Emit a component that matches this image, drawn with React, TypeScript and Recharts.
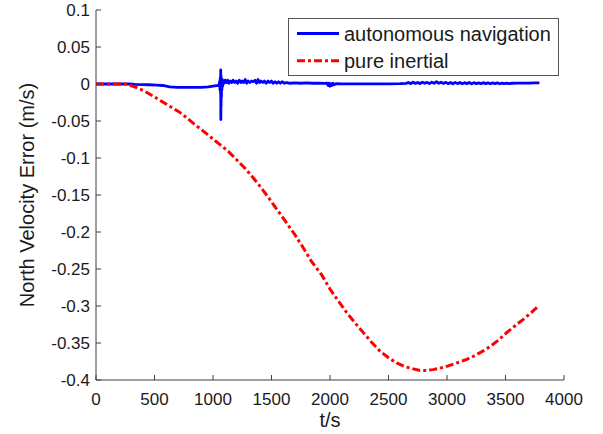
import React from 'react';
import { LineChart, Line, XAxis, YAxis, Legend } from 'recharts';

const FONT = '"Liberation Sans", Arial, Helvetica, sans-serif';
const AXIS_COLOR = '#404040';
const TEXT_COLOR = '#1a1a1a';

const seriesNames = ['autonomous navigation', 'pure inertial'];
const seriesColors = ['#0000ff', '#ff0000'];
const xTicks = [0, 500, 1000, 1500, 2000, 2500, 3000, 3500, 4000];
const yTicks = [0.1, 0.05, 0, -0.05, -0.1, -0.15, -0.2, -0.25, -0.3, -0.35, -0.4];
const xTitle = 't/s';
const yTitle = 'North Velocity Error (m/s)';

// autonomous navigation (blue)
const autoTime = [
  0, 100, 200, 290, 330, 400, 450, 520, 570, 630, 700, 800, 900, 960, 1000, 1030, 1050,
  1058, 1060, 1062, 1064, 1066, 1067, 1068, 1069, 1070, 1072, 1074, 1076, 1079, 1083, 1088,
  1095, 1105, 1115, 1125, 1135, 1148, 1160, 1172, 1185, 1198, 1210, 1225, 1238, 1250, 1262,
  1275, 1288, 1300, 1315, 1330, 1345, 1360, 1372, 1385, 1398, 1410, 1425, 1440, 1455, 1470,
  1485, 1500, 1515, 1530, 1545, 1560, 1575, 1590, 1610, 1630, 1660, 1700, 1750, 1800, 1850,
  1900, 1950, 1975, 1985, 1992, 2000, 2008, 2016, 2025, 2035, 2050, 2100, 2200, 2300, 2400,
  2500, 2600, 2650, 2670, 2690, 2710, 2730, 2750, 2770, 2790, 2810, 2830, 2850, 2870, 2890,
  2910, 2930, 2950, 2970, 2990, 3010, 3030, 3050, 3070, 3090, 3110, 3130, 3150, 3170, 3190,
  3210, 3230, 3250, 3270, 3290, 3310, 3330, 3350, 3370, 3390, 3410, 3430, 3450, 3470, 3490,
  3510, 3530, 3560, 3600, 3650, 3700, 3750, 3790,
];
const autoError = [
  0, 0, 0, 0.0003, -0.0005, -0.0008, -0.001, -0.0015, -0.002, -0.0038, -0.0045, -0.0046, -0.0045, -0.004, -0.003, -0.0022, -0.0018,
  0.004, -0.008, 0.008, -0.012, 0.019, -0.048, 0.012, -0.03, 0.009, -0.018, 0.007, -0.008, 0.006, -0.003, 0.005,
  0.001, 0.005, 0.002, 0.005, 0.001, 0.004, 0.002, 0.005, 0.002, 0.004, 0.001, 0.005, 0.002, 0.004, 0.002,
  0.006, 0.001, 0.004, 0.002, 0.004, 0.003, 0.005, 0.001, 0.006, 0.002, 0.004, 0.002, 0.004, 0.001, 0.004,
  0.002, 0.004, 0.001, 0.003, 0.001, 0.003, 0.001, 0.003, 0.001, 0.002, 0.001, 0.0015, 0.001, 0.0015, 0.001,
  0.001, 0.0008, 0.001, -0.002, 0.001, -0.003, 0.0005, -0.002, 0.001, -0.001, 0.0005, 0.0003, 0.0003, 0.0002, 0.0003,
  0.0003, 0.0005, 0.0008, 0.002, 0.0005, 0.0025, 0.0008, 0.002, 0.0005, 0.0025, 0.001, 0.0022, 0.0005, 0.0025, 0.001,
  0.003, 0.001, 0.0025, 0.0008, 0.0022, 0.0005, 0.002, 0.0003, 0.0022, 0.0005, 0.002, 0.0003, 0.0018, 0.0005, 0.002,
  0.0003, 0.0018, 0.0005, 0.0015, 0.0003, 0.0018, 0.0005, 0.0015, 0.0003, 0.0015, 0.0005, 0.0015, 0.0003, 0.0012, 0.0005,
  0.0012, 0.0005, 0.001, 0.0012, 0.0012, 0.0013, 0.0015, 0.0015,
];

// pure inertial (red)
const inertialTime = [
  0, 100, 200, 250, 276, 350, 419, 490, 561, 630, 704, 775, 846, 920, 989, 1060, 1131, 1200,
  1274, 1345, 1416, 1490, 1558, 1630, 1701, 1770, 1843, 1929, 2000, 2070, 2143, 2215, 2285,
  2355, 2427, 2500, 2570, 2640, 2712, 2770, 2826, 2880, 2940, 3010, 3083, 3155, 3225, 3295,
  3368, 3440, 3510, 3580, 3652, 3720, 3781,
];
const inertialError = [
  0, 0, 0, 0, -0.001, -0.005, -0.01, -0.0165, -0.0235, -0.03, -0.037, -0.0455, -0.055, -0.064, -0.073, -0.082, -0.091, -0.102,
  -0.114, -0.127, -0.141, -0.157, -0.172, -0.188, -0.204, -0.221, -0.24, -0.258, -0.277, -0.293, -0.309, -0.323, -0.336,
  -0.349, -0.361, -0.37, -0.377, -0.382, -0.385, -0.387, -0.387, -0.386, -0.384, -0.381, -0.377, -0.373, -0.368, -0.362,
  -0.355, -0.346, -0.336, -0.327, -0.318, -0.309, -0.3,
];

const autoData = autoTime.map((t, i) => ({ t, v: autoError[i] }));
const inertialData = inertialTime.map((t, i) => ({ t, v: inertialError[i] }));

const fmtY = (v: number) => {
  const r = Number(v.toFixed(2));
  return r === 0 ? '0' : String(r);
};

const LegendBox = () => (
  <div
    style={{
      width: 271,
      height: 58,
      border: '1px solid #555',
      background: '#fff',
      boxSizing: 'border-box',
      fontFamily: FONT,
    }}
  >
    <svg width={269} height={56} style={{ display: 'block' }}>
      <line x1={8} x2={50} y1={14.5} y2={14.5} stroke={seriesColors[0]} strokeWidth={3} />
      <text x={55} y={14.5} dominantBaseline="central" fontSize={20} fill={TEXT_COLOR}>
        {seriesNames[0]}
      </text>
      <line
        x1={8}
        x2={50}
        y1={41.8}
        y2={41.8}
        stroke={seriesColors[1]}
        strokeWidth={3}
        strokeDasharray="8 3 3 3"
      />
      <text x={55} y={41.8} dominantBaseline="central" fontSize={20} fill={TEXT_COLOR}>
        {seriesNames[1]}
      </text>
    </svg>
  </div>
);

const YTitle = (props: any) => {
  const vb = props.viewBox || { x: 0, y: 0, width: 96, height: 370 };
  const cx = vb.x + 27;
  const cy = vb.y + vb.height / 2;
  return (
    <text
      x={cx}
      y={cy}
      transform={`rotate(-90 ${cx} ${cy})`}
      textAnchor="middle"
      dominantBaseline="central"
      fontSize={20}
      fontFamily={FONT}
      fill={TEXT_COLOR}
    >
      {yTitle}
    </text>
  );
};

export default function App() {
  return (
    <div style={{ position: 'absolute', left: 0, top: 0, width: 603, height: 434, background: '#fff' }}>
      <LineChart
        width={603}
        height={434}
        margin={{ top: 10, right: 39, bottom: 0, left: 0 }}
        style={{ fontFamily: FONT }}
      >
        <XAxis
          xAxisId="bottom"
          dataKey="t"
          type="number"
          domain={[0, 4000]}
          ticks={xTicks}
          height={54}
          tickSize={-5}
          tickMargin={18}
          axisLine={{ stroke: AXIS_COLOR }}
          tickLine={{ stroke: AXIS_COLOR }}
          tick={{ fill: TEXT_COLOR, fontSize: 17, fontFamily: FONT }}
          allowDataOverflow
          label={{ value: xTitle, position: 'insideBottom', offset: 7, fontSize: 20, fill: TEXT_COLOR, fontFamily: FONT }}
        />
        <XAxis
          xAxisId="top"
          orientation="top"
          type="number"
          domain={[0, 4000]}
          ticks={xTicks}
          height={0}
          tickSize={-5}
          tick={false}
          axisLine={{ stroke: AXIS_COLOR }}
          tickLine={{ stroke: AXIS_COLOR }}
          allowDataOverflow
        />
        <YAxis
          yAxisId="left"
          type="number"
          domain={[-0.4, 0.1]}
          ticks={yTicks}
          width={96}
          tickSize={-5}
          tickMargin={11}
          tickFormatter={fmtY}
          axisLine={{ stroke: AXIS_COLOR }}
          tickLine={{ stroke: AXIS_COLOR }}
          tick={{ fill: TEXT_COLOR, fontSize: 17, fontFamily: FONT }}
          allowDataOverflow
          label={YTitle}
        />
        <YAxis
          yAxisId="right"
          orientation="right"
          type="number"
          domain={[-0.4, 0.1]}
          ticks={yTicks}
          width={0}
          tickSize={-5}
          tick={false}
          axisLine={{ stroke: AXIS_COLOR }}
          tickLine={{ stroke: AXIS_COLOR }}
          allowDataOverflow
        />
        <Line
          xAxisId="bottom"
          yAxisId="left"
          data={autoData}
          dataKey="v"
          name={seriesNames[0]}
          stroke={seriesColors[0]}
          strokeWidth={2.8}
          dot={false}
          isAnimationActive={false}
          strokeLinejoin="round"
        />
        <Line
          xAxisId="bottom"
          yAxisId="left"
          data={inertialData}
          dataKey="v"
          name={seriesNames[1]}
          stroke={seriesColors[1]}
          strokeWidth={3}
          strokeDasharray="8 3 3 3"
          dot={false}
          isAnimationActive={false}
        />
        <Legend
          layout="vertical"
          align="center"
          verticalAlign="middle"
          content={() => <LegendBox />}
          wrapperStyle={{ left: 288, top: 18, width: 271, height: 58 }}
        />
      </LineChart>
    </div>
  );
}
